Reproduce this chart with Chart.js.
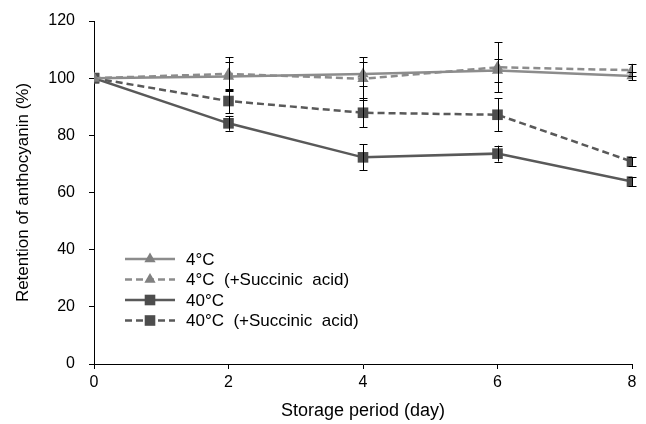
<!DOCTYPE html>
<html><head><meta charset="utf-8">
<script src="https://cdn.jsdelivr.net/npm/chart.js@4"></script>
<style>html,body{margin:0;padding:0;background:#fff}#wrap{width:646px;height:424px;position:relative}</style>
</head><body><div id="wrap"><canvas id="c" width="646" height="424"></canvas></div>
<script>
const days = [0, 2, 4, 6, 8];
const xTicks = [0, 2, 4, 6, 8];
const yTicks = [0, 20, 40, 60, 80, 100, 120];
const seriesNames = ['4°C', '4°C  (+Succinic  acid)', '40°C', '40°C  (+Succinic  acid)'];
const ret4 = [100, 100.6, 101.5, 102.7, 100.8];
const ret4Err = [0, 5.2, 4.3, 4.0, 1.5];
const ret4SA = [100, 101.5, 99.8, 103.8, 102.8];
const ret4SAErr = [0, 5.8, 7.5, 8.8, 2.2];
const ret40 = [100, 84.2, 72.3, 73.6, 63.8];
const ret40Err = [0, 2.6, 4.5, 2.8, 1.7];
const ret40SA = [100, 92.0, 87.9, 87.2, 70.8];
const ret40SAErr = [0, 4.3, 5.0, 5.8, 1.5];
const xTitle = 'Storage period (day)';
const yTitle = 'Retention of anthocyanin (%)';

const FONT = "'Liberation Sans', Arial, sans-serif";
const light = '#8c8c8c', lightPt = '#808080', dark = '#595959', darkPt = '#4d4d4d';

function mk(label, vals, errs, line, pt, dash, style, r) {
  return {
    label, data: days.map((d, i) => ({x: d, y: vals[i]})), errs,
    borderColor: line, backgroundColor: pt, borderWidth: 2.5, borderDash: dash,
    pointStyle: style, pointRadius: r, pointHoverRadius: r,
    pointBackgroundColor: pt, pointBorderColor: pt, pointBorderWidth: 0,
    tension: 0, fill: false
  };
}
const datasets = [
  mk(seriesNames[0], ret4, ret4Err, light, lightPt, [], 'triangle', 6.5),
  mk(seriesNames[1], ret4SA, ret4SAErr, light, lightPt, [7, 4], 'triangle', 6.5),
  mk(seriesNames[2], ret40, ret40Err, dark, darkPt, [], 'rect', 7.5),
  mk(seriesNames[3], ret40SA, ret40SAErr, dark, darkPt, [7, 4], 'rect', 7.5)
];

const errorBars = {
  id: 'errorBars',
  afterDatasetsDraw(chart) {
    const {ctx, scales: {x, y}} = chart;
    ctx.save();
    ctx.strokeStyle = '#000'; ctx.lineWidth = 1; ctx.setLineDash([]);
    chart.data.datasets.forEach(ds => {
      ds.data.forEach((p, i) => {
        const e = ds.errs[i];
        if (!e) return;
        const px = Math.round(x.getPixelForValue(p.x)) + 0.5;
        const top = y.getPixelForValue(p.y + e), bot = y.getPixelForValue(p.y - e);
        ctx.beginPath();
        ctx.moveTo(px, top); ctx.lineTo(px, bot);
        ctx.moveTo(px - 4, Math.round(top) + 0.5); ctx.lineTo(px + 4, Math.round(top) + 0.5);
        ctx.moveTo(px - 4, Math.round(bot) + 0.5); ctx.lineTo(px + 4, Math.round(bot) + 0.5);
        ctx.stroke();
      });
    });
    ctx.restore();
  }
};

function marker(ctx, style, x, y, r, color) {
  ctx.fillStyle = color;
  ctx.beginPath();
  if (style === 'triangle') {
    ctx.moveTo(x, y - r);
    ctx.lineTo(x + r * Math.sin(2 * Math.PI / 3), y - r * Math.cos(2 * Math.PI / 3));
    ctx.lineTo(x + r * Math.sin(4 * Math.PI / 3), y - r * Math.cos(4 * Math.PI / 3));
    ctx.closePath();
  } else {
    const s = r * Math.SQRT1_2;
    ctx.rect(x - s, y - s, 2 * s, 2 * s);
  }
  ctx.fill();
}

const customLegend = {
  id: 'customLegend',
  afterDraw(chart) {
    const ctx = chart.ctx;
    const rows = [259, 279.5, 300, 320.5];
    ctx.save();
    chart.data.datasets.forEach((ds, i) => {
      const y = rows[i];
      ctx.strokeStyle = ds.borderColor; ctx.lineWidth = 2.5;
      ctx.setLineDash(ds.borderDash);
      ctx.beginPath(); ctx.moveTo(125, y); ctx.lineTo(175, y); ctx.stroke();
      ctx.setLineDash([]);
      marker(ctx, ds.pointStyle, 150, y, ds.pointRadius, ds.pointBackgroundColor);
      ctx.fillStyle = '#000';
      ctx.font = '17px ' + FONT;
      ctx.textBaseline = 'middle'; ctx.textAlign = 'left';
      ctx.fillText(ds.label, 186, y + 1);
    });
    ctx.restore();
  }
};

new Chart(document.getElementById('c'), {
  type: 'line',
  data: {datasets},
  plugins: [errorBars, customLegend],
  options: {
    responsive: false, animation: false,
    layout: {padding: {top: 21, right: 14, left: 0, bottom: 0}},
    plugins: {legend: {display: false}, tooltip: {enabled: false}},
    scales: {
      x: {
        type: 'linear', min: 0, max: 8,
        afterFit(s) { s.height = 60; s.paddingLeft = 0; s.paddingRight = 0; },
        afterBuildTicks(s) { s.ticks = xTicks.map(v => ({value: v})); },
        grid: {drawOnChartArea: false, drawTicks: true, tickLength: 5, tickColor: '#000', tickWidth: 1},
        border: {color: '#000', width: 1},
        ticks: {color: '#000', font: {family: FONT, size: 16}, padding: 4, maxRotation: 0},
        title: {display: true, text: xTitle, color: '#000', font: {family: FONT, size: 18}, padding: {top: 0, bottom: 2}}
      },
      y: {
        type: 'linear', min: 0, max: 120,
        afterFit(s) { s.width = 94; s.paddingTop = 0; s.paddingBottom = 0; },
        afterBuildTicks(s) { s.ticks = yTicks.map(v => ({value: v})); },
        grid: {drawOnChartArea: false, drawTicks: true, tickLength: 5, tickColor: '#000', tickWidth: 1},
        border: {color: '#000', width: 1},
        ticks: {color: '#000', font: {family: FONT, size: 16}, padding: 14},
        title: {display: true, text: yTitle, color: '#000', font: {family: FONT, size: 17}, padding: {top: 13, bottom: 0}}
      }
    }
  }
});
</script></body></html>
